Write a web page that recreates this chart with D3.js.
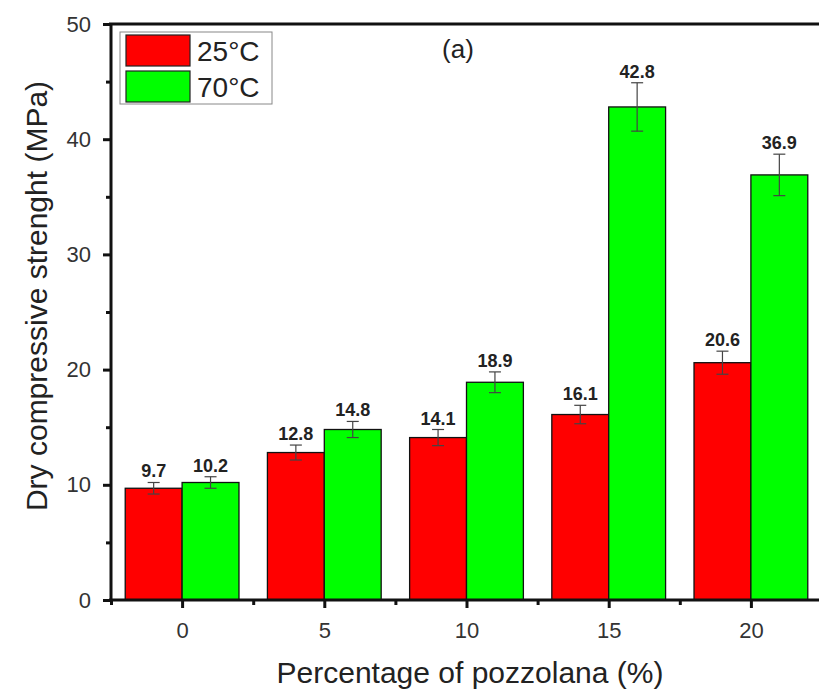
<!DOCTYPE html>
<meta charset="utf-8">
<script src="https://d3js.org/d3.v7.min.js"></script>
<style>
  body { margin: 0; background: #fff; }
  text { font-family: Arial, "Liberation Sans", sans-serif; }
</style>
<div id="chart"></div>
<script>

// data
var categories = [0, 5, 10, 15, 20];
var series = ["25°C", "70°C"];
var colors = ["#ff0000", "#00ff00"];
var values25 = [9.7, 12.8, 14.1, 16.1, 20.6];
var values70 = [10.2, 14.8, 18.9, 42.8, 36.9];
var err25 = [0.5, 0.65, 0.7, 0.8, 1.0];
var err70 = [0.5, 0.7, 0.9, 2.1, 1.8];
var yTicks = [0, 10, 20, 30, 40, 50];

var W = 819, H = 691;
var margin = {top: 24, right: -3, bottom: 91, left: 111};
var width = W - margin.left - margin.right,
    height = H - margin.top - margin.bottom;

var svg = d3.select("#chart")
  .append("svg")
    .attr("width", W)
    .attr("height", H);

var g = svg.append("g")
    .attr("transform", "translate(" + margin.left + "," + margin.top + ")");

var x = d3.scaleLinear().domain([-2.5, 22.5]).range([0, width]);
var y = d3.scaleLinear().domain([0, 50]).range([height, 0]);
var step = x(5) - x(0);
var barW = step * 0.4;

var rows = [];
categories.forEach(function (c, i) {
  rows.push({cat: c, s: 0, v: values25[i], e: err25[i]});
  rows.push({cat: c, s: 1, v: values70[i], e: err70[i]});
});

// bars
g.selectAll("rect.bar")
  .data(rows)
  .enter().append("rect")
    .attr("class", "bar")
    .attr("x", d => x(d.cat) + (d.s - 1) * barW)
    .attr("y", d => y(d.v))
    .attr("width", barW)
    .attr("height", d => y(0) - y(d.v))
    .attr("fill", d => colors[d.s])
    .attr("stroke", "#111")
    .attr("stroke-width", 1.3);

// error bars
var eb = g.selectAll("g.err")
  .data(rows)
  .enter().append("g")
    .attr("class", "err")
    .attr("stroke", "#444")
    .attr("stroke-width", 1.2);
eb.append("line")
    .attr("x1", d => x(d.cat) + (d.s - 0.5) * barW)
    .attr("x2", d => x(d.cat) + (d.s - 0.5) * barW)
    .attr("y1", d => y(d.v + d.e))
    .attr("y2", d => y(d.v - d.e));
eb.selectAll("line.cap")
  .data(d => [d.v + d.e, d.v - d.e].map(v => ({cx: x(d.cat) + (d.s - 0.5) * barW, v: v})))
  .enter().append("line")
    .attr("class", "cap")
    .attr("x1", d => d.cx - 6)
    .attr("x2", d => d.cx + 6)
    .attr("y1", d => y(d.v))
    .attr("y2", d => y(d.v));

// value labels
g.selectAll("text.val")
  .data(rows)
  .enter().append("text")
    .attr("class", "val")
    .attr("x", d => x(d.cat) + (d.s - 0.5) * barW)
    .attr("y", d => y(d.v + d.e) - 5)
    .attr("text-anchor", "middle")
    .style("font-size", "18px")
    .style("font-weight", "bold")
    .attr("fill", "#222")
    .text(d => d.v.toFixed(1));

// axes
g.append("g")
    .call(d3.axisLeft(y).tickValues(yTicks).tickSize(8).tickPadding(12));
g.append("g")
    .call(d3.axisLeft(y).tickValues([5, 15, 25, 35, 45]).tickSize(5).tickFormat(""));
g.append("g")
    .attr("transform", "translate(0," + height + ")")
    .call(d3.axisBottom(x).tickValues(categories).tickSize(8).tickPadding(14));
g.append("g")
    .attr("transform", "translate(0," + height + ")")
    .call(d3.axisBottom(x).tickValues([-2.5, 2.5, 7.5, 12.5, 17.5]).tickSize(5).tickFormat(""));

g.selectAll(".domain").remove();
g.selectAll(".tick line").attr("stroke", "#111").attr("stroke-width", 3);
g.selectAll(".tick text").style("font-size", "22px").attr("fill", "#333");

// frame
g.append("line").attr("x1", 0).attr("x2", 0).attr("y1", 0).attr("y2", height)
    .attr("stroke", "#111").attr("stroke-width", 3);
g.append("line").attr("x1", -2).attr("x2", width).attr("y1", height).attr("y2", height)
    .attr("stroke", "#111").attr("stroke-width", 3);
g.append("line").attr("x1", -2).attr("x2", width).attr("y1", 0).attr("y2", 0)
    .attr("stroke", "#111").attr("stroke-width", 3);

// axis titles
svg.append("text")
    .attr("x", 470)
    .attr("y", 683)
    .attr("text-anchor", "middle")
    .style("font-size", "30px")
    .attr("fill", "#222")
    .text("Percentage of pozzolana (%)");
svg.append("text")
    .attr("transform", "translate(47,296) rotate(-90)")
    .attr("text-anchor", "middle")
    .style("font-size", "30px")
    .attr("fill", "#222")
    .text("Dry compressive strenght (MPa)");

// panel label
g.append("text")
    .attr("x", 347)
    .attr("y", 34)
    .attr("text-anchor", "middle")
    .style("font-size", "26px")
    .attr("fill", "#222")
    .text("(a)");

// legend
var legend = g.append("g").attr("transform", "translate(9,8)");
legend.append("rect")
    .attr("width", 152).attr("height", 72)
    .attr("fill", "#fff").attr("stroke", "#888").attr("stroke-width", 1);
series.forEach(function (s, i) {
  legend.append("rect")
      .attr("x", 6).attr("y", 3 + i * 36)
      .attr("width", 64).attr("height", 31)
      .attr("fill", colors[i]).attr("stroke", "#222").attr("stroke-width", 1.2);
  legend.append("text")
      .attr("x", 77).attr("y", 29 + i * 36)
      .style("font-size", "28px")
      .attr("fill", "#222")
      .text(s);
});

</script>
